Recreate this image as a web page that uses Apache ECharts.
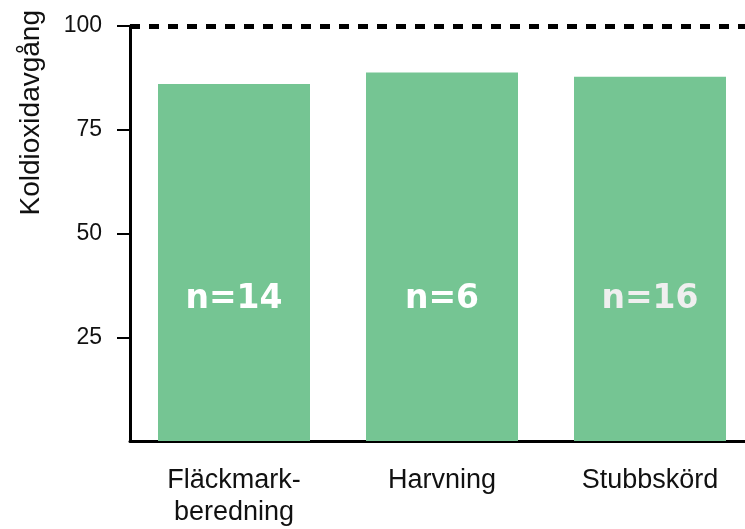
<!DOCTYPE html>
<html>
<head>
<meta charset="utf-8">
<script src="https://cdn.jsdelivr.net/npm/echarts@6/dist/echarts.min.js"></script>
<style>html,body{margin:0;padding:0;background:#fff}#c{width:745px;height:529px}</style>
</head>
<body>
<div id="c"></div>
<script>
const categories = ['Fläckmark-\nberedning', 'Harvning', 'Stubbskörd'];
const values = [86.0, 88.8, 87.8];
const nLabels = ['n=14', 'n=6', 'n=16'];
const yTicks = [0, 25, 50, 75, 100];
const yName = 'Koldioxidavgång';
const refLine = 100;

const chart = echarts.init(document.getElementById('c'));
const font = '"Liberation Sans", Arial, sans-serif';
chart.setOption({
  animation: false,
  grid: { left: 130, width: 624, top: 26, bottom: 88, containLabel: false, outerBoundsMode: 'none' },
  xAxis: {
    type: 'category',
    data: categories,
    axisLine: { lineStyle: { color: '#000', width: 3 } },
    axisTick: { show: false },
    axisLabel: { color: '#111', fontSize: 27, fontFamily: font, margin: 24, lineHeight: 32 }
  },
  yAxis: {
    type: 'value',
    min: yTicks[0], max: yTicks[yTicks.length - 1], interval: 25,
    axisLine: { show: true, lineStyle: { color: '#000', width: 3 } },
    axisTick: { show: true, length: 13, lineStyle: { color: '#000', width: 2 } },
    splitLine: { show: false },
    axisLabel: { color: '#111', fontSize: 23, fontFamily: font, margin: 28, showMinLabel: false }
  },
  graphic: [{
    type: 'text',
    left: 17, top: 10,
    rotation: Math.PI / 2,
    style: { text: yName, fontSize: 28, fontFamily: font, fill: '#111' },
    originX: 0, originY: 0
  }],
  series: [{
    type: 'bar',
    data: values.map((v, i) => ({
      value: v,
      label: { color: i === 2 ? '#efefef' : '#fff' }
    })),
    barWidth: 152,
    itemStyle: { color: '#75c593' },
    label: {
      show: true,
      position: 'insideBottom',
      distance: 125,
      fontSize: 33,
      fontWeight: 'bold',
      fontFamily: '"DejaVu Sans", sans-serif',
      formatter: p => nLabels[p.dataIndex]
    },
    markLine: {
      silent: true,
      symbol: 'none',
      label: { show: false },
      lineStyle: { color: '#000', width: 5, type: [10, 9] },
      data: [{ yAxis: refLine }]
    }
  }]
});
</script>
</body>
</html>
